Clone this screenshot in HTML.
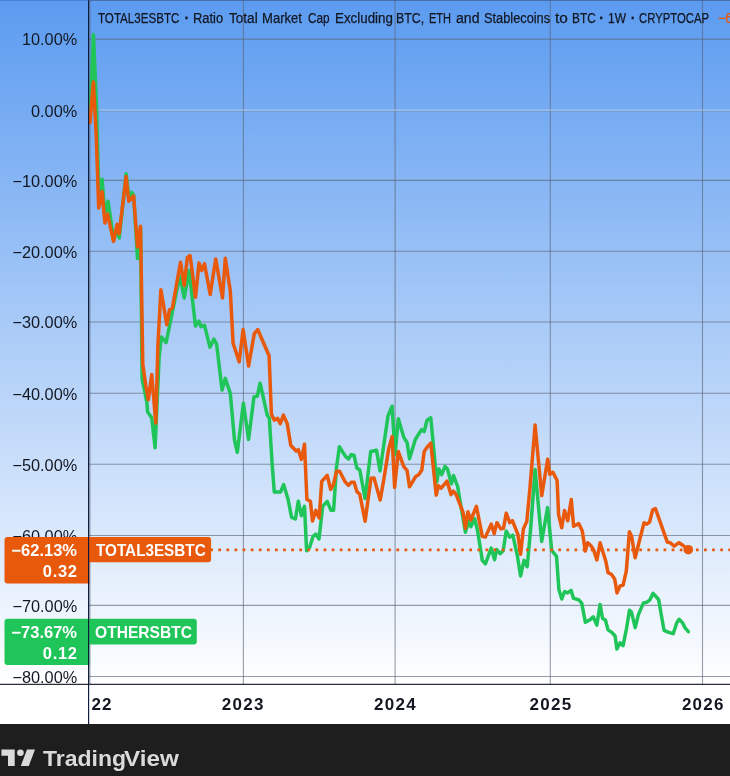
<!DOCTYPE html>
<html lang="en">
<head>
<meta charset="utf-8">
<title>TOTAL3ESBTC chart</title>
<style>
html,body{margin:0;padding:0;}
body{width:730px;height:776px;overflow:hidden;background:#fff;font-family:"Liberation Sans",sans-serif;position:relative;}
#chart{position:absolute;left:0;top:0;width:730px;height:724.4px;overflow:hidden;
  background:linear-gradient(to bottom,#5b9bf0 0px,#ffffff 686px,#ffffff 725px);}
#footer{position:absolute;left:0;top:724.4px;width:730px;height:52px;background:#1e1e1e;}
svg{position:absolute;left:0;top:0;}
.ylab{position:absolute;left:0;width:77.2px;text-align:right;font-size:16.3px;line-height:17px;color:#131722;white-space:nowrap;}
#xaxis{position:absolute;left:89.5px;top:685px;width:641px;height:39px;overflow:hidden;}
.xlab{position:absolute;top:9.5px;width:80px;margin-left:-89.5px;text-align:center;font-size:17px;line-height:20px;font-weight:bold;color:#131722;letter-spacing:1.25px;text-indent:1.25px;}
.tw{position:absolute;top:9.7px;-webkit-text-stroke-width:0.25px;transform-origin:0 50%;font-size:14px;line-height:17px;color:#131722;white-space:nowrap;}
.tag{position:absolute;color:#fff;font-weight:bold;font-size:16.5px;line-height:17px;white-space:nowrap;transform-origin:0 50%;}
.tag .r{position:absolute;right:0;}
#tv span{position:absolute;top:746.6px;font-size:21.8px;line-height:24px;font-weight:bold;color:#dadada;white-space:nowrap;transform-origin:0 50%;}
</style>
</head>
<body>
<div id="chart">
<svg width="730" height="725" viewBox="0 0 730 725">
<g stroke="#5a6175" stroke-opacity="0.62" stroke-width="1.1">
<line x1="89" y1="0.4" x2="730" y2="0.4"/>
<line x1="89" y1="39.1" x2="730" y2="39.1"/>
<line x1="89" y1="180.4" x2="730" y2="180.4"/>
<line x1="89" y1="251.3" x2="730" y2="251.3"/>
<line x1="89" y1="322.0" x2="730" y2="322.0"/>
<line x1="89" y1="393.2" x2="730" y2="393.2"/>
<line x1="89" y1="464.2" x2="730" y2="464.2"/>
<line x1="89" y1="535.5" x2="730" y2="535.5"/>
<line x1="89" y1="605.4" x2="730" y2="605.4"/>
<line x1="89" y1="676.5" x2="730" y2="676.5"/>
<line x1="89.9" y1="0" x2="89.9" y2="684"/>
<line x1="243.4" y1="0" x2="243.4" y2="684"/>
<line x1="395.1" y1="0" x2="395.1" y2="684"/>
<line x1="550.3" y1="0" x2="550.3" y2="684"/>
<line x1="702.5" y1="0" x2="702.5" y2="684"/>
</g>
<line x1="89" y1="110.9" x2="730" y2="110.9" stroke="#5a6175" stroke-opacity="0.35" stroke-width="1"/>
<line x1="89" y1="110.1" x2="730" y2="110.1" stroke="#b9cbe6" stroke-opacity="0.8" stroke-width="1.3"/>
<polyline fill="none" stroke="#20c55a" stroke-width="3.5" stroke-linejoin="round" stroke-linecap="round" points="89.9,121.0 93.4,34.6 96.5,105.0 99.0,200.0 102.1,179.3 104.9,215.0 108.0,201.2 113.8,240.0 117.2,228.0 119.2,238.0 126.1,173.8 128.8,197.0 131.6,192.3 133.6,195.0 137.5,258.5 140.5,228.0 142.1,379.0 146.9,402.5 147.6,412.0 151.7,417.6 155.1,447.7 159.2,356.0 161.3,337.0 166.1,342.5 179.8,276.0 184.2,298.0 189.1,270.5 195.5,326.0 199.0,321.2 201.0,326.7 204.5,325.3 210.0,347.3 213.9,339.0 216.6,344.1 222.1,390.0 225.3,378.4 230.3,393.4 234.5,440.0 237.3,452.4 243.4,403.3 248.6,439.4 254.0,396.8 257.3,396.2 260.1,383.2 267.3,415.3 269.3,418.0 272.3,466.1 274.3,492.1 280.5,492.1 283.6,484.6 288.0,499.0 291.6,517.3 295.4,519.0 298.3,501.2 301.4,515.6 304.5,506.3 306.6,550.7 309.7,547.3 313.1,536.3 315.8,534.2 319.0,539.0 322.7,506.2 327.2,501.4 330.9,510.3 333.6,510.3 336.5,467.2 339.4,446.8 345.5,456.4 348.5,459.0 351.2,454.6 354.1,455.3 356.8,468.0 359.8,470.0 365.1,498.6 370.7,451.5 376.5,450.2 380.0,471.0 388.0,416.0 392.1,406.2 395.1,454.4 398.3,418.8 403.8,437.3 407.1,442.6 409.5,458.7 415.3,439.5 421.5,429.6 424.2,431.5 426.9,420.5 430.8,417.8 436.8,482.0 438.9,469.0 441.7,474.7 445.0,466.4 447.5,469.2 451.4,483.7 453.5,475.5 457.6,486.4 465.4,532.3 468.6,521.4 470.9,526.8 474.7,518.6 477.5,530.3 482.3,560.4 485.4,563.8 491.2,548.1 494.6,559.7 496.6,549.5 500.1,553.6 503.2,550.8 506.2,531.0 509.7,537.1 512.8,535.1 517.2,554.9 520.6,576.0 524.0,560.4 527.2,566.6 530.7,528.0 535.1,469.6 541.7,541.4 547.6,507.6 551.7,550.3 556.5,556.4 558.9,589.4 561.8,599.0 564.6,591.5 567.6,592.9 571.1,590.3 573.5,598.4 578.6,599.7 581.7,603.2 585.4,622.3 590.2,619.6 593.2,616.8 596.8,625.1 600.1,604.5 602.5,618.2 605.5,620.3 608.0,629.9 612.1,632.6 615.1,636.0 616.9,649.0 620.1,642.9 623.1,645.6 626.5,628.5 629.5,610.2 631.4,611.9 635.2,627.6 638.4,614.6 643.5,602.9 646.9,602.2 649.7,600.1 653.1,593.3 658.6,599.5 664.0,630.3 668.8,632.3 673.2,633.7 676.8,622.7 679.1,619.3 682.5,622.7 685.3,628.2 688.3,631.6"/>
<polyline fill="none" stroke="#e8590c" stroke-width="3.5" stroke-linejoin="round" stroke-linecap="round" points="89.9,122.5 93.4,82.0 96.2,135.0 98.7,208.0 102.1,191.6 104.9,223.0 107.6,214.0 113.5,241.4 117.2,224.2 119.2,233.8 126.1,176.6 128.8,201.2 133.6,195.8 137.5,247.0 140.5,226.3 142.8,364.2 145.7,385.0 148.3,399.8 151.7,374.5 155.8,423.0 157.9,345.0 160.9,289.7 166.8,324.7 169.5,309.6 172.3,308.2 180.5,262.3 184.2,285.6 187.3,257.5 190.1,255.5 195.5,297.3 199.0,263.0 201.7,270.5 204.5,263.7 210.2,294.5 215.7,258.9 222.5,298.0 225.3,258.2 230.3,291.1 233.1,343.2 239.2,361.9 243.1,329.5 248.6,366.0 254.3,333.6 257.7,329.5 269.1,355.8 271.4,414.0 274.2,420.1 277.6,418.4 280.3,423.6 283.4,415.1 287.2,423.6 290.8,445.5 296.2,451.0 298.3,449.7 301.4,459.4 304.5,444.2 306.9,499.5 310.4,501.2 312.5,521.0 315.8,510.4 319.2,518.0 321.7,481.4 327.2,475.4 330.7,489.5 333.4,484.7 336.5,471.3 339.6,471.3 345.0,481.6 348.4,485.4 351.2,482.3 354.1,482.2 356.9,491.6 359.8,494.3 365.1,521.2 371.0,478.2 374.0,477.9 380.2,500.0 383.9,479.0 388.7,448.9 392.1,436.6 394.6,487.3 398.3,451.6 403.8,466.7 407.0,470.3 409.5,486.8 415.7,476.5 418.7,474.7 421.8,470.0 424.2,451.5 427.6,446.6 430.8,443.2 436.2,495.0 438.5,485.7 441.2,488.1 447.0,481.2 451.0,494.6 453.4,491.1 456.2,494.7 463.1,512.5 465.4,528.2 467.9,511.8 470.9,520.0 476.4,506.3 482.3,536.4 485.4,537.1 491.2,524.1 494.2,533.7 496.9,522.7 500.8,528.9 503.5,528.2 506.2,513.2 509.7,522.7 512.4,520.7 517.9,534.4 520.6,554.2 523.4,528.9 526.8,521.4 529.8,490.0 535.1,425.1 541.7,495.6 547.7,459.3 549.9,474.4 552.9,472.3 557.1,480.5 558.6,514.7 561.7,527.7 564.5,510.5 567.7,520.8 571.3,499.6 573.6,526.3 578.7,523.6 582.3,531.1 585.3,551.0 587.7,542.7 590.8,545.5 593.5,549.6 596.9,559.9 600.1,542.7 605.8,561.2 608.0,572.6 611.3,574.3 614.7,579.1 617.0,592.9 620.1,585.9 623.1,585.2 626.3,571.0 629.4,531.8 631.7,536.6 635.1,557.8 644.0,522.9 646.8,524.2 649.5,522.2 652.7,509.9 655.4,508.5 667.3,542.1 670.1,542.7 674.2,546.2 679.0,542.7 683.1,545.5 688.3,549.6"/>
<line x1="88.83" y1="549.8" x2="730" y2="549.8" stroke="#e8590c" stroke-width="2.7" stroke-dasharray="2.7 5.395"/>
<circle cx="688.3" cy="549.7" r="4.8" fill="#e8590c"/>
</svg>
<div id="title"><span class="tw" style="left:98.4px;transform:scaleX(0.828)">TOTAL3ESBTC</span><span class="tw" style="left:184.4px;transform:scaleX(1.000);font-weight:bold">·</span><span class="tw" style="left:193.1px;transform:scaleX(0.923)">Ratio</span><span class="tw" style="left:229.2px;transform:scaleX(0.969)">Total</span><span class="tw" style="left:261.8px;transform:scaleX(0.933)">Market</span><span class="tw" style="left:307.6px;transform:scaleX(0.842)">Cap</span><span class="tw" style="left:334.6px;transform:scaleX(0.954)">Excluding</span><span class="tw" style="left:396.1px;transform:scaleX(0.887)">BTC,</span><span class="tw" style="left:429.4px;transform:scaleX(0.788)">ETH</span><span class="tw" style="left:455.7px;transform:scaleX(1.005)">and</span><span class="tw" style="left:483.5px;transform:scaleX(0.913)">Stablecoins</span><span class="tw" style="left:555.2px;transform:scaleX(1.100)">to</span><span class="tw" style="left:571.6px;transform:scaleX(0.846)">BTC</span><span class="tw" style="left:599.3px;transform:scaleX(1.000);font-weight:bold">·</span><span class="tw" style="left:608.0px;transform:scaleX(0.855)">1W</span><span class="tw" style="left:630.7px;transform:scaleX(1.000);font-weight:bold">·</span><span class="tw" style="left:639.4px;transform:scaleX(0.808)">CRYPTOCAP</span><span class="tw" style="left:717.5px;color:#e8590c;transform:scaleX(0.9)">−62.13%</span></div>
<div class="ylab" style="top:31.4px">10.00%</div>
<div class="ylab" style="top:102.5px">0.00%</div>
<div class="ylab" style="top:172.8px">−10.00%</div>
<div class="ylab" style="top:243.7px">−20.00%</div>
<div class="ylab" style="top:314.3px">−30.00%</div>
<div class="ylab" style="top:385.6px">−40.00%</div>
<div class="ylab" style="top:456.6px">−50.00%</div>
<div class="ylab" style="top:527.8px">−60.00%</div>
<div class="ylab" style="top:597.6px">−70.00%</div>
<div class="ylab" style="top:668.8px;height:16.2px;overflow:hidden">−80.00%</div>

<svg width="730" height="725" viewBox="0 0 730 725">
<path d="M7.5 536.9 H208.1 a3 3 0 0 1 3 3 V559.3 a3 3 0 0 1 -3 3 H89.5 V583.4 H7.5 a3 3 0 0 1 -3 -3 V539.9 a3 3 0 0 1 3 -3 Z" fill="#e8590c"/>
<path d="M7.5 618.8 H193.8 a3 3 0 0 1 3 3 V641.6 a3 3 0 0 1 -3 3 H89.5 V665.1 H7.5 a3 3 0 0 1 -3 -3 V621.8 a3 3 0 0 1 3 -3 Z" fill="#20c55a"/>
<line x1="0" y1="684.4" x2="730" y2="684.4" stroke="#2a2e39" stroke-width="1.2"/>
<line x1="88.6" y1="0" x2="88.6" y2="725" stroke="#0c1838" stroke-width="1.15"/>
<line x1="0" y1="0.3" x2="730" y2="0.3" stroke="#2f62b8" stroke-opacity="0.55" stroke-width="0.9"/>
</svg>
<div id="xaxis">
<div class="xlab" style="left:50.8px">2022</div>
<div class="xlab" style="left:202.6px">2023</div>
<div class="xlab" style="left:354.9px">2024</div>
<div class="xlab" style="left:510.4px">2025</div>
<div class="xlab" style="left:662.7px">2026</div>
</div>
<div class="tag" style="left:0;top:541.5px;width:77px;height:40px"><span class="r" style="top:0">−62.13%</span><span class="r" style="top:21.4px;letter-spacing:0.7px;margin-right:-0.7px">0.32</span></div>
<div class="tag" style="left:95.5px;top:542px;transform:scaleX(0.925)">TOTAL3ESBTC</div>
<div class="tag" style="left:0;top:623.8px;width:77px;height:40px"><span class="r" style="top:0">−73.67%</span><span class="r" style="top:21.4px;letter-spacing:0.7px;margin-right:-0.7px">0.12</span></div>
<div class="tag" style="left:94.8px;top:623.9px;transform:scaleX(0.945)">OTHERSBTC</div>
</div>
<div id="footer"></div>
<svg width="730" height="776" viewBox="0 0 730 776" style="pointer-events:none">
<g fill="#dadada">
<path d="M1.4 749.6 H14.7 V765.9 H8 V755.7 H1.4 Z"/>
<circle cx="20.4" cy="752.8" r="3.3"/>
<path d="M27 749.6 H35 L28.8 765.9 H20.8 Z"/>
</g>
</svg>
<div id="tv"><span style="left:43.1px;transform:scaleX(1.056)">Trading</span><span style="left:124.2px;transform:scaleX(1.112)">View</span></div>
</body>
</html>
